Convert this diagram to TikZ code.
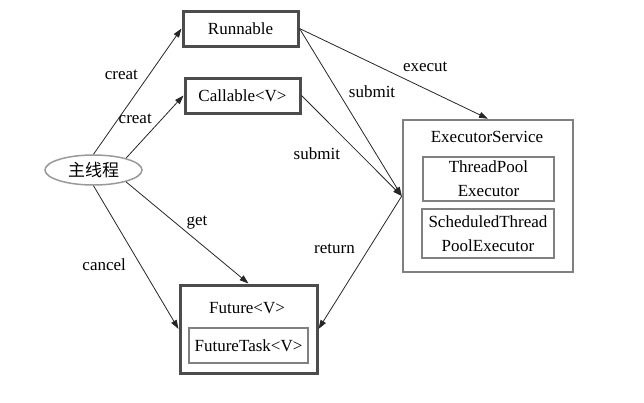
\documentclass[tikz,border=0pt]{standalone}
\usepackage{fontspec}
\setmainfont{Liberation Serif}
\newfontfamily\cjkfont{Noto Sans CJK SC}
\usetikzlibrary{shapes.geometric,arrows.meta}

\begin{document}
\begin{tikzpicture}[x=1pt,y=-1pt,font=\fontsize{17}{24}\selectfont,
	darkbox/.style={draw=black!70,line width=3pt,minimum width=115pt,minimum height=35pt,inner sep=0pt},
	greybox/.style={draw=black!50,line width=2.5pt,inner sep=0pt,align=center},
	link/.style={draw=black!85,line width=.8pt,-{Triangle[length=9pt,width=6pt]}}]
	\useasboundingbox (0,0) rectangle (644,402);
	% the boxes
	\node[darkbox] (run) at (240.5,28.5) {Runnable};
	\node[darkbox] (call) at (242.5,95.5) {Callable<V>};
	\node[ellipse,draw=black!40,line width=1.5pt,minimum width=97pt,minimum height=30pt,inner sep=0pt] (main) at (93.5,170) {\cjkfont 主线程};
	\node[greybox,minimum width=170pt,minimum height=152pt] (exec) at (488,196) {};
	\node (exectitle) at (487,137) {ExecutorService};
	\node[greybox,minimum width=131pt,minimum height=44pt] (tpe) at (488.5,179) {ThreadPool\\Executor};
	\node[greybox,minimum width=132pt,minimum height=49pt] (stpe) at (488,233.5) {ScheduledThread\\PoolExecutor};
	\node[darkbox,minimum width=137pt,minimum height=88pt] (fut) at (248.5,329) {};
	\node (futtitle) at (247,308) {Future<V>};
	\node[greybox,minimum width=119pt,minimum height=35pt] (ftask) at (248.5,345.5) {FutureTask<V>};
	% the connectors
	\draw[link] (main.north) -- node[pos=.63,xshift=-27.5pt] {creat} (run.west);
	\draw[link] (main.20) -- node[pos=.63,xshift=-27pt] {creat} (call.west);
	\draw[link] (run.east) -- node[pos=.667,yshift=22pt] {execut} (exec.north);
	\draw[link] (run.east) -- node[pos=.377,xshift=34pt] {submit} (exec.west);
	\draw[link] (call.east) -- node[pos=.582,xshift=-43pt] {submit} (exec.west);
	\draw[link] (exec.west) -- node[pos=.4,xshift=-34pt] {return} (fut.east);
	\draw[link] (main.-20) -- node[pos=.4,xshift=22pt] {get} (fut.north);
	\draw[link] (main.south) -- node[pos=.549,xshift=-36pt] {cancel} (fut.west);
\end{tikzpicture}
\end{document}
